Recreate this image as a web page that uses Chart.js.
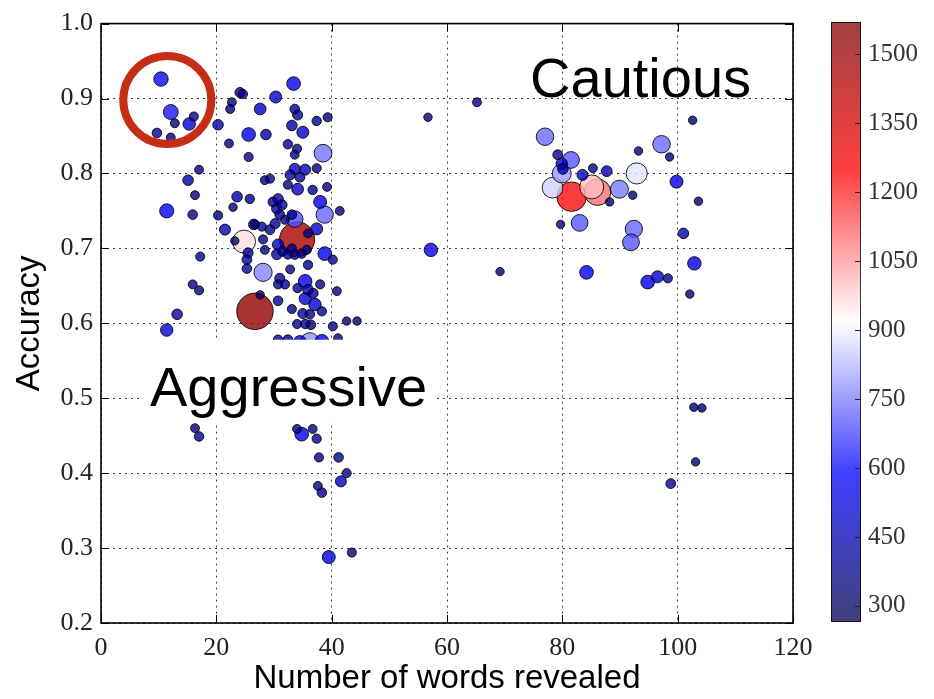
<!DOCTYPE html>
<html>
<head>
<meta charset="utf-8">
<script src="https://cdn.jsdelivr.net/npm/chart.js@4.4.1/dist/chart.umd.min.js"></script>
<style>
  html, body { margin: 0; padding: 0; background: #fff; }
  #wrap { position: relative; width: 934px; height: 699px; }
  #main { position: absolute; left: 0; top: 0; }
  #bar { position: absolute; left: 820px; top: 0; }
</style>
</head>
<body>
<div id="wrap">
  <canvas id="main" width="825" height="699"></canvas>
  <canvas id="bar" width="114" height="699"></canvas>
</div>
<script>
// one entry per point
const wordsRevealed = [
  10.4, 12.1, 16.1, 12.8, 15.3, 9.7, 12.1,
  20.3, 24.1, 24.6, 22.7, 22.4, 25.6, 22.2, 25.6, 17.0, 15.1, 16.3, 11.4, 15.9,
  23.6, 25.8, 22.9, 20.3, 21.5, 26.5, 24.8, 23.2, 25.5, 25.3, 25.3, 17.2, 15.9, 17.0,
  13.2, 11.4, 26.7, 27.6,
  33.4, 30.3, 27.6, 33.6, 34.1, 37.4, 39.3, 33.1, 35.0, 28.6, 32.4, 34.0, 33.6, 38.5,
  33.6, 35.4, 32.8, 34.5, 37.4, 29.3, 28.4, 34.1, 32.4, 36.7, 39.2, 30.7, 31.4, 29.8,
  38.0, 41.4, 38.8, 33.6, 30.5, 31.0, 31.9, 33.1, 26.7, 27.9, 29.3, 30.2, 37.4, 34.0,
  35.9, 30.7, 31.5, 32.4, 33.6, 34.8, 35.7, 30.5, 33.1, 38.8, 40.2, 28.4, 28.1, 28.1,
  31.0, 30.7, 31.9, 32.8, 35.9, 35.4, 34.1, 38.0, 40.9, 30.7, 35.4, 37.1, 33.1, 35.0,
  36.2, 38.3, 34.0, 35.4, 40.2, 42.6, 44.4, 30.7, 32.4, 34.5, 36.2, 38.3,
  36.8, 35.9, 36.4, 41.1,
  16.3, 17.0, 34.0, 34.8, 36.7, 37.4, 37.8, 41.2, 42.6, 37.6, 38.3, 41.6, 39.5, 43.5,
  57.2, 56.7, 65.2, 69.2,
  77.0, 79.2, 79.9, 80.1, 81.5, 79.9, 78.3, 81.6, 85.1, 86.1, 83.5, 85.3, 87.7, 89.9,
  88.2, 92.2, 92.9, 93.2, 97.2, 79.7, 83.0, 92.4, 91.9, 84.2, 94.8, 96.5, 98.3,
  102.6, 98.6, 99.8, 103.6, 101.0, 102.9, 102.1, 102.8, 104.2, 103.1, 98.8
];
const accuracy = [
  0.926, 0.882, 0.876, 0.867, 0.866, 0.854, 0.848,
  0.865, 0.908, 0.906, 0.895, 0.886, 0.852, 0.840, 0.822, 0.805, 0.791, 0.771, 0.750, 0.745,
  0.769, 0.766, 0.755, 0.744, 0.725, 0.732, 0.709, 0.710, 0.694, 0.685, 0.673, 0.689, 0.652, 0.644,
  0.612, 0.591, 0.616, 0.638,
  0.920, 0.902, 0.886, 0.886, 0.878, 0.870, 0.875, 0.864, 0.855, 0.852, 0.839, 0.833, 0.825, 0.827,
  0.806, 0.805, 0.798, 0.795, 0.807, 0.793, 0.791, 0.779, 0.785, 0.778, 0.782, 0.766, 0.758, 0.762,
  0.762, 0.750, 0.745, 0.739, 0.753, 0.745, 0.738, 0.745, 0.732, 0.729, 0.725, 0.733, 0.726, 0.712,
  0.720, 0.705, 0.696, 0.692, 0.692, 0.693, 0.698, 0.692, 0.700, 0.693, 0.685, 0.698, 0.712, 0.668,
  0.660, 0.652, 0.652, 0.672, 0.678, 0.656, 0.647, 0.652, 0.643, 0.630, 0.633, 0.625, 0.619, 0.613,
  0.612, 0.616, 0.599, 0.599, 0.596, 0.603, 0.603, 0.578, 0.578, 0.575, 0.575, 0.576,
  0.640, 0.645, 0.598, 0.580,
  0.460, 0.449, 0.459, 0.452, 0.459, 0.446, 0.421, 0.421, 0.400, 0.383, 0.374, 0.389, 0.288, 0.294,
  0.698, 0.875, 0.895, 0.669,
  0.849, 0.825, 0.813, 0.806, 0.818, 0.800, 0.781, 0.769, 0.782, 0.775, 0.798, 0.807, 0.803, 0.779,
  0.762, 0.771, 0.800, 0.830, 0.839, 0.732, 0.734, 0.726, 0.708, 0.668, 0.655, 0.662, 0.660,
  0.871, 0.822, 0.789, 0.763, 0.720, 0.680, 0.639, 0.488, 0.487, 0.415, 0.386
];
const colourValue = [
  600, 620, 380, 370, 520, 400, 370,
  440, 420, 390, 370, 370, 570, 370, 380, 370, 440, 370, 590, 400,
  440, 390, 350, 380, 460, 440, 960, 350, 420, 410, 400, 380, 370, 380,
  440, 520, 1520, 350,
  570, 500, 490, 400, 420, 390, 380, 440, 500, 440, 390, 380, 370, 740,
  470, 460, 420, 410, 380, 380, 370, 490, 380, 390, 370, 440, 420, 400,
  540, 370, 720, 690, 440, 410, 370, 400, 370, 380, 410, 420, 500, 1460,
  370, 470, 410, 400, 420, 390, 380, 440, 380, 570, 380, 370, 380, 760,
  420, 380, 390, 370, 390, 570, 390, 380, 370, 400, 500, 520, 380, 420,
  400, 390, 380, 390, 380, 350, 350, 400, 410, 540, 780, 570,
  410, 440, 400, 370,
  370, 400, 370, 570, 370, 390, 380, 400, 380, 370, 400, 460, 540, 380,
  560, 350, 370, 350,
  730, 410, 480, 440, 700, 790, 860, 1230, 1000, 1100, 460, 370, 450, 750,
  350, 350, 880, 350, 730, 350, 700, 720, 700, 570, 570, 500, 380,
  350, 350, 540, 350, 440, 560, 350, 350, 350, 350, 410
];

const xTicks = [0, 20, 40, 60, 80, 100, 120];
const yTicks = [0.2, 0.3, 0.4, 0.5, 0.6, 0.7, 0.8, 0.9, 1.0];
const colourTicks = [300, 450, 600, 750, 900, 1050, 1200, 1350, 1500];
const colourMin = 265;
const colourMax = 1570;

const circledGroup = { x: 11.5, y: 0.898 };
const regionLabels = [
  { text: 'Cautious', x: 74.4, y: 0.902, box: false },
  { text: 'Aggressive', x: 8.5, y: 0.49, box: true }
];

// matplotlib "seismic"
const seismic = [[0, 0, 0.3], [0, 0, 1], [1, 1, 1], [1, 0, 0], [0.5, 0, 0]];
function cmap(v, a) {
  let t = (v - colourMin) / (colourMax - colourMin);
  t = Math.max(0, Math.min(1, t));
  const s = t * 4;
  const i = Math.min(3, Math.floor(s));
  const f = s - i;
  const c = seismic[i].map((c0, k) => Math.round((c0 + (seismic[i + 1][k] - c0) * f) * 255));
  return `rgba(${c[0]},${c[1]},${c[2]},${a})`;
}

const points = wordsRevealed
  .map((x, i) => ({ x: x, y: accuracy[i], v: colourValue[i] }))
  .sort((a, b) => b.v - a.v);

const serif = { family: 'Liberation Serif', size: 26 };
const sans = { family: 'Liberation Sans', size: 33 };

const framePlugin = {
  id: 'frame',
  afterDraw(chart) {
    const { ctx, chartArea: a, scales } = chart;
    ctx.save();
    ctx.strokeStyle = '#000';
    ctx.lineWidth = 1;
    ctx.beginPath();
    xTicks.forEach(v => {
      const px = Math.round(scales.x.getPixelForValue(v)) + 0.5;
      ctx.moveTo(px, a.bottom); ctx.lineTo(px, a.bottom - 8);
      ctx.moveTo(px, a.top); ctx.lineTo(px, a.top + 8);
    });
    yTicks.forEach(v => {
      const py = Math.round(scales.y.getPixelForValue(v)) + 0.5;
      ctx.moveTo(a.left, py); ctx.lineTo(a.left + 8, py);
      ctx.moveTo(a.right, py); ctx.lineTo(a.right - 8, py);
    });
    ctx.stroke();
    ctx.lineWidth = 1.6;
    ctx.strokeRect(a.left, a.top, a.right - a.left, a.bottom - a.top);
    ctx.restore();
  }
};

const labelPlugin = {
  id: 'regionLabels',
  afterDatasetsDraw(chart) {
    const { ctx, scales } = chart;
    ctx.save();
    ctx.font = '56px "Liberation Sans"';
    ctx.textBaseline = 'alphabetic';
    regionLabels.forEach(l => {
      const px = scales.x.getPixelForValue(l.x);
      const py = scales.y.getPixelForValue(l.y);
      const w = ctx.measureText(l.text).width;
      if (l.box) {
        ctx.fillStyle = '#fff';
        ctx.fillRect(px - 9, py - 66, w + 19, 82);
      }
      ctx.fillStyle = '#000';
      ctx.fillText(l.text, px, py);
    });
    ctx.restore();
  }
};

new Chart(document.getElementById('main'), {
  type: 'scatter',
  data: {
    datasets: [
      {
        data: [circledGroup],
        pointRadius: 44,
        pointBorderWidth: 8,
        pointBorderColor: '#c62d12',
        pointBackgroundColor: 'rgba(0,0,0,0)',
        order: 0
      },
      {
        data: points,
        pointRadius: c => c.raw.v * 0.012,
        pointBackgroundColor: c => cmap(c.raw.v, 0.8),
        pointBorderColor: 'rgba(0,0,0,0.85)',
        pointBorderWidth: 1,
        order: 1
      }
    ]
  },
  options: {
    responsive: false,
    animation: false,
    events: [],
    layout: { autoPadding: false, padding: { left: 0, top: 21, right: 32, bottom: 0 } },
    plugins: { legend: { display: false }, tooltip: { enabled: false } },
    scales: {
      x: {
        type: 'linear', min: 0, max: 120,
        afterBuildTicks: s => { s.ticks = xTicks.map(v => ({ value: v })); },
        afterFit: s => { s.height = 76; },
        ticks: { font: serif, color: '#222', padding: 10, maxRotation: 0, callback: v => String(v) },
        grid: { color: 'rgba(0,0,0,0.75)', lineWidth: 1, drawTicks: false },
        border: { display: false, dash: [2, 4] },
        title: { display: true, text: 'Number of words revealed', font: sans, color: '#000', padding: { top: 0, bottom: 0 } }
      },
      y: {
        type: 'linear', min: 0.2, max: 1.0,
        afterBuildTicks: s => { s.ticks = yTicks.map(v => ({ value: v })); },
        afterFit: s => { s.width = 101; },
        ticks: { font: serif, color: '#222', padding: 8, callback: v => v.toFixed(1) },
        grid: { color: 'rgba(0,0,0,0.75)', lineWidth: 1, drawTicks: false },
        border: { display: false, dash: [2, 4] },
        title: { display: true, text: 'Accuracy', font: sans, color: '#000', padding: { top: 10, bottom: 4 } }
      }
    }
  },
  plugins: [labelPlugin, framePlugin]
});

const colourbarPlugin = {
  id: 'colourbar',
  beforeDraw(chart) {
    const { ctx, chartArea: a, scales } = chart;
    const y = scales.y;
    const g = ctx.createLinearGradient(0, y.getPixelForValue(colourMin), 0, y.getPixelForValue(colourMax));
    seismic.forEach((c, i) => {
      const v = colourMin + (colourMax - colourMin) * i / 4;
      g.addColorStop(i / 4, cmap(v, 0.75));
    });
    ctx.save();
    ctx.fillStyle = g;
    ctx.fillRect(a.left, a.top, a.right - a.left, a.bottom - a.top);
    ctx.strokeStyle = 'rgba(0,0,0,0.75)';
    ctx.lineWidth = 1;
    ctx.strokeRect(a.left + 0.5, a.top + 0.5, a.right - a.left - 1, a.bottom - a.top - 1);
    ctx.beginPath();
    colourTicks.forEach(v => {
      const py = Math.round(y.getPixelForValue(v)) + 0.5;
      ctx.moveTo(a.right - 6, py); ctx.lineTo(a.right, py);
    });
    ctx.strokeStyle = '#222';
    ctx.stroke();
    ctx.restore();
  }
};

new Chart(document.getElementById('bar'), {
  type: 'scatter',
  data: { datasets: [] },
  options: {
    responsive: false,
    animation: false,
    events: [],
    layout: { autoPadding: false, padding: { left: 11, top: 17, right: 0, bottom: 77 } },
    plugins: { legend: { display: false }, tooltip: { enabled: false } },
    scales: {
      x: { display: false, min: 0, max: 1 },
      y: {
        position: 'right', min: colourMin, max: colourMax,
        afterBuildTicks: s => { s.ticks = colourTicks.map(v => ({ value: v })); },
        afterFit: s => { s.width = 73; },
        ticks: { font: { family: 'Liberation Serif', size: 25 }, color: '#333', padding: 7, callback: v => String(v) },
        grid: { display: false, drawTicks: false },
        border: { display: false }
      }
    }
  },
  plugins: [colourbarPlugin]
});
</script>
</body>
</html>
